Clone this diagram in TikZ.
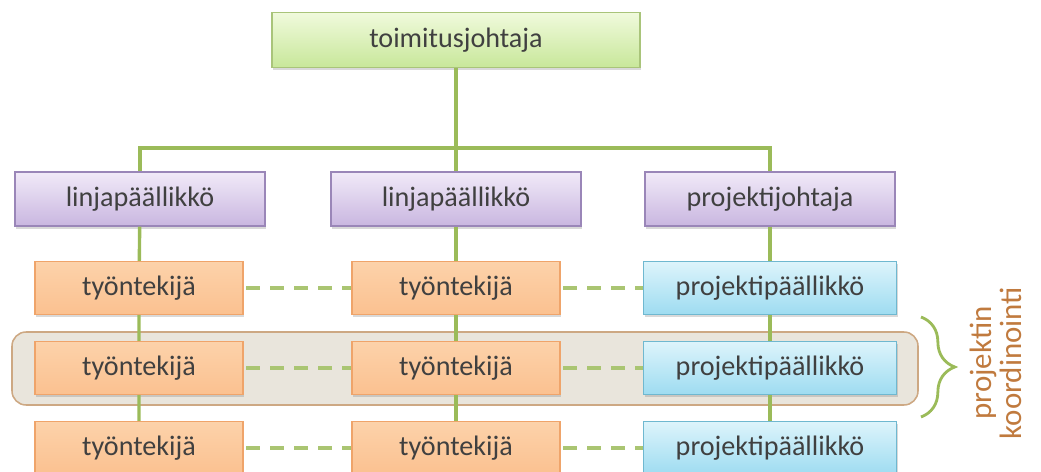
\documentclass[tikz,border=0pt]{standalone}
\usepackage{fontspec}
\setmainfont{Carlito}
\usetikzlibrary{shadows,decorations.pathreplacing}

\definecolor{linegreen}{HTML}{9BBB59}
\definecolor{txtgray}{HTML}{404040}
\definecolor{greentop}{HTML}{F0FADC}
\definecolor{greenbot}{HTML}{C8E79A}
\definecolor{greenedge}{HTML}{A9C47A}
\definecolor{violettop}{HTML}{F1EAF8}
\definecolor{violetbot}{HTML}{C9B6E0}
\definecolor{violetedge}{HTML}{9A86B8}
\definecolor{orangetop}{HTML}{FCD2AA}
\definecolor{orangebot}{HTML}{FBC190}
\definecolor{orangeedge}{HTML}{EFA46A}
\definecolor{cyantop}{HTML}{DDF4FB}
\definecolor{cyanbot}{HTML}{9EDCF1}
\definecolor{cyanedge}{HTML}{6FB8D0}
\definecolor{bandfill}{HTML}{E9E5DC}
\definecolor{bandedge}{HTML}{CDA883}
\definecolor{notecolor}{HTML}{C07A3E}

\begin{document}
\begin{tikzpicture}[x=0.025cm,y=-0.025cm,
	box/.style={rectangle,line width=0.8pt,text=txtgray,inner sep=0pt,
		font=\fontsize{20}{24}\selectfont,
		drop shadow={opacity=0.3,shadow xshift=1pt,shadow yshift=-1.8pt}},
	topbox/.style={box,draw=greenedge,top color=greentop,bottom color=greenbot,minimum width=9.2cm,minimum height=1.375cm},
	linebox/.style={box,draw=violetedge,top color=violettop,bottom color=violetbot,minimum width=6.25cm,minimum height=1.35cm},
	workbox/.style={box,draw=orangeedge,top color=orangetop,bottom color=orangebot,minimum width=5.2cm,minimum height=1.325cm},
	projbox/.style={box,draw=cyanedge,top color=cyantop,bottom color=cyanbot,minimum width=6.325cm,minimum height=1.325cm},
	tie/.style={draw=linegreen,line width=2.4pt},
	loose/.style={draw=linegreen!85,line width=2.4pt,dash pattern=on 10pt off 7pt}]

	\useasboundingbox (0,0) rectangle (1041,472);

	% coordination band
	\draw[fill=bandfill,draw=bandedge,line width=1.1pt,rounded corners=10pt] (12,332) rectangle (918,405);

	% boxes
	\node[topbox] (ceo) at (456,40) {toimitusjohtaja};
	\node[linebox] (lm1) at (140,199) {linjapäällikkö};
	\node[linebox] (lm2) at (456,199) {linjapäällikkö};
	\node[linebox] (pd) at (770,199) {projektijohtaja};
	\foreach \r/\y in {1/288,2/368,3/448}{
		\node[workbox] (wa\r) at (139,\y) {työntekijä};
		\node[workbox] (wb\r) at (456,\y) {työntekijä};
		\node[projbox] (pm\r) at (770,\y) {projektipäällikkö};
	}

	% hierarchy
	\coordinate (bus) at (456,148);
	\draw[tie] (ceo) -- (lm2);
	\draw[tie] (lm1.north) |- (bus) -| (pd.north);
	\draw[tie] (lm1) -- (wa1) -- (wa2) -- (wa3);
	\draw[tie] (lm2) -- (wb1) -- (wb2) -- (wb3);
	\draw[tie] (pd) -- (pm1) -- (pm2) -- (pm3);
	\foreach \r in {1,2,3}{
		\draw[loose] (wa\r.east) ++(2pt,0) -- (wb\r.west);
		\draw[loose] (wb\r.east) ++(2pt,0) -- (pm\r.west);
	}

	% brace and note
	\draw[linegreen,line width=2pt,decorate,decoration={brace,amplitude=24pt}] (921,317) coordinate (br1) -- (921,417) coordinate (br2);
	\node[rotate=90,align=center,text=notecolor,font=\fontsize{22}{21}\selectfont] (note) at (996,363) {projektin\\koordinointi};
\end{tikzpicture}
\end{document}
